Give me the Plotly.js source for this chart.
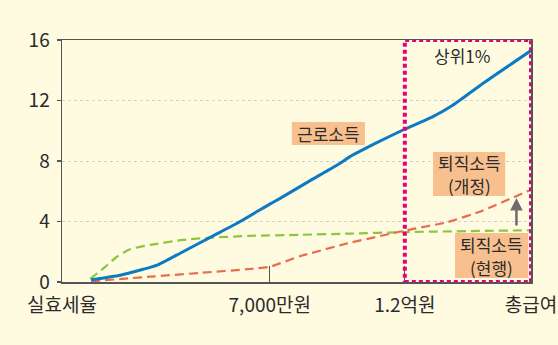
<!DOCTYPE html>
<html>
<head>
<meta charset="utf-8">
<script src="https://cdn.plot.ly/plotly-3.0.1.min.js"></script>
<style>
  html, body { margin: 0; padding: 0; background: #fefbe1; }
  #chart { width: 558px; height: 345px; }
</style>
</head>
<body>
<div id="chart"></div>
<script>
// Income position along the x axis (0 = axis origin, 100 = total pay end)
const tickPositions = [0, 44.3, 73.1, 100];
const tickLabels = ['실효세율', '7,000만원', '1.2억원', '총급여'];

// Earned income effective tax rate (%)
const earnedX = [6.2, 12.4, 17.3, 20.3, 25.2, 31.6, 38.0, 44.3, 46.5, 52.9, 59.3, 61.4, 66.7, 72.7, 79.1, 83.4, 89.8, 100];
const earnedY = [0.15, 0.45, 0.84, 1.12, 1.9, 2.95, 4.0, 5.15, 5.53, 6.7, 7.85, 8.29, 9.15, 10.05, 10.93, 11.7, 13.14, 15.3];

// Retirement income, current rules (%)
const currentX = [6.0, 9.2, 11.7, 14.5, 18.8, 25.8, 31.6, 40.1, 50.7, 61.4, 73.1, 100];
const currentY = [0.2, 1.0, 1.67, 2.16, 2.45, 2.78, 2.93, 3.05, 3.12, 3.2, 3.3, 3.42];

// Retirement income, revised rules (%)
const revisedX = [6.2, 18.8, 29.4, 40.1, 44.3, 50.7, 60.8, 73.1, 82.1, 89.1, 100];
const revisedY = [0.05, 0.35, 0.6, 0.86, 1.0, 1.7, 2.55, 3.4, 3.95, 4.65, 6.1];

// Top 1% bracket boundaries
const topShareRange = [73.1, 100];

const FONT = '"Noto Sans CJK KR", "Noto Sans", sans-serif';
const TEXT = '#2b2b2b';
const PEACH = '#f8c08f';

const traces = [
  {
    x: currentX, y: currentY, type: 'scatter', mode: 'lines',
    line: { color: '#8cc63e', width: 2.2, dash: '9px,5px', shape: 'spline', smoothing: 0.6 }
  },
  {
    x: revisedX, y: revisedY, type: 'scatter', mode: 'lines',
    line: { color: '#e96c4c', width: 2.2, dash: '9px,5px', shape: 'spline', smoothing: 0.3 }
  },
  {
    x: earnedX, y: earnedY, type: 'scatter', mode: 'lines',
    line: { color: '#0d7bc4', width: 3, shape: 'spline', smoothing: 0.5 }
  }
];

// Peach label box behind a text block
function labelBox(x0, x1, y0, y1) {
  return {
    type: 'rect', xref: 'x', yref: 'y', x0: x0, x1: x1, y0: y0, y1: y1,
    fillcolor: PEACH, line: { width: 0 }, layer: 'above'
  };
}

// One line of label text
function labelLine(x, y, text) {
  return {
    x: x, y: y, xref: 'x', yref: 'y', text: text, showarrow: false,
    font: { family: FONT, size: 17, color: TEXT }
  };
}

const layout = {
  width: 558, height: 345,
  margin: { l: 62, r: 27, t: 40, b: 63 },
  paper_bgcolor: '#fefbe1',
  plot_bgcolor: '#fefbe1',
  showlegend: false,
  font: { family: FONT, size: 19, color: TEXT },
  xaxis: {
    range: [0, 100], fixedrange: true,
    tickvals: tickPositions, ticktext: tickLabels,
    ticks: 'inside', ticklen: 16, tickcolor: '#555', tickwidth: 1.2,
    ticklabelstandoff: 6,
    showgrid: false, zeroline: false,
    showline: true, linecolor: '#555', linewidth: 1.5, mirror: true,
    tickfont: { family: FONT, size: 19, color: TEXT }
  },
  yaxis: {
    range: [0, 16], fixedrange: true,
    tickvals: [0, 4, 8, 12, 16],
    ticks: 'outside', ticklen: 4, tickcolor: '#555', tickwidth: 1.2,
    ticklabelstandoff: 3,
    showgrid: true, gridcolor: '#d0d0d0', griddash: '3px,3px', gridwidth: 1,
    zeroline: false,
    showline: true, linecolor: '#555', linewidth: 1.5, mirror: true,
    tickfont: { family: FONT, size: 19, color: TEXT }
  },
  shapes: [
    labelBox(49.0, 64.6, 9.06, 10.58),
    labelBox(79.1, 94.5, 5.69, 8.6),
    labelBox(83.8, 99.4, 0.26, 3.24),
    {
      type: 'rect', xref: 'x', yref: 'y',
      x0: topShareRange[0], x1: topShareRange[1], y0: 0, y1: 16,
      line: { color: '#e6007e', width: 4, dash: '4px,3px' },
      layer: 'above'
    }
  ],
  annotations: [
    labelLine(85.3, 15.0, '상위1%'),
    labelLine(56.8, 9.8, '근로소득'),
    labelLine(86.8, 7.87, '퇴직소득'),
    labelLine(86.8, 6.35, '(개정)'),
    labelLine(91.6, 2.51, '퇴직소득'),
    labelLine(91.6, 0.99, '(현행)'),
    {
      x: 96.9, y: 5.55, xref: 'x', yref: 'y',
      ax: 96.9, ay: 3.64, axref: 'x', ayref: 'y',
      text: '', showarrow: true, arrowhead: 2, arrowsize: 1, arrowwidth: 2.5,
      arrowcolor: '#6d6d6d', standoff: 0, startstandoff: 0
    }
  ]
};

Plotly.newPlot('chart', traces, layout, { staticPlot: true, displayModeBar: false });
</script>
</body>
</html>
